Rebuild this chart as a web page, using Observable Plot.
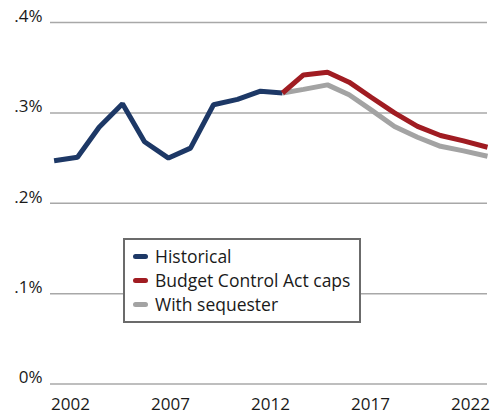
<!DOCTYPE html>
<html>
<head>
<meta charset="utf-8">
<script src="https://cdn.jsdelivr.net/npm/d3@7"></script>
<script src="https://cdn.jsdelivr.net/npm/@observablehq/plot@0.6"></script>
<style>
  html, body { margin: 0; padding: 0; background: #fff; }
  #wrap { position: relative; width: 490px; height: 415px; font-family: "Open Sans", sans-serif; }
  #legend {
    position: absolute; left: 123px; top: 238px; width: 238px; height: 85px;
    box-sizing: border-box; border: 2px solid #6b6b6b; background: #fff;
    padding: 4px 0 0 8px; font-size: 17.5px; color: #1a1a1a;
  }
  .row { height: 24px; line-height: 24px; display: flex; align-items: center; white-space: nowrap; }
  .sw { width: 15px; height: 5px; border-radius: 3px; margin-right: 7px; flex: none; }
</style>
</head>
<body>
<div id="wrap"></div>
<script>
// Historical (years)
const histYears = [2001.18, 2002.35, 2003.43, 2004.6, 2005.7, 2006.9, 2008.0, 2009.15, 2010.35, 2011.5, 2012.6];
const histValues = [0.247, 0.251, 0.284, 0.310, 0.268, 0.250, 0.261, 0.309, 0.315, 0.324, 0.322];
// Projections
const projYears = [2012.6, 2013.65, 2014.85, 2015.93, 2017.05, 2018.2, 2019.35, 2020.5, 2021.65, 2022.85];
const bcaValues = [0.322, 0.342, 0.345, 0.334, 0.317, 0.300, 0.285, 0.275, 0.269, 0.262];
const seqValues = [0.322, 0.326, 0.331, 0.320, 0.303, 0.285, 0.273, 0.263, 0.258, 0.252];

const seriesNames = ["Historical", "Budget Control Act caps", "With sequester"];
const seriesColors = ["#1d3866", "#a01c22", "#a3a3a3"];
const xTicks = [2002, 2007, 2012, 2017, 2022];
const yTicks = [0, 0.1, 0.2, 0.3, 0.4];
const yTickLabels = ["0%", ".1%", ".2%", ".3%", ".4%"];

const hist = histYears.map((x, i) => ({x, y: histValues[i]}));
const bca = projYears.map((x, i) => ({x, y: bcaValues[i]}));
const seq = projYears.map((x, i) => ({x, y: seqValues[i]}));

const lineOpts = {x: "x", y: "y", strokeWidth: 5, strokeLinejoin: "miter", strokeLinecap: "butt"};

const chart = Plot.plot({
  width: 490,
  height: 415,
  marginLeft: 50,
  marginRight: 3,
  marginTop: 22,
  marginBottom: 31.5,
  style: {fontFamily: "Open Sans", fontSize: "17px", color: "#1a1a1a", background: "#fff"},
  x: {domain: [2001, 2022.85]},
  y: {domain: [0, 0.4]},
  marks: [
    Plot.gridY(yTicks, {stroke: "#a8a8a8", strokeOpacity: 1, strokeWidth: 1.5}),
    Plot.axisY(yTicks, {tickSize: 0, tickPadding: 8, dy: -6, tickFormat: d => yTickLabels[yTicks.indexOf(d)], label: null}),
    Plot.axisX(xTicks, {tickSize: 0, tickPadding: 14, tickFormat: d => String(d), label: null}),
    Plot.line(hist, {...lineOpts, stroke: seriesColors[0]}),
    Plot.line(seq, {...lineOpts, stroke: seriesColors[2]}),
    Plot.line(bca, {...lineOpts, stroke: seriesColors[1]})
  ]
});

const wrap = document.getElementById("wrap");
wrap.appendChild(chart);
const legend = document.createElement("div");
legend.id = "legend";
seriesNames.forEach((name, i) => {
  const row = document.createElement("div");
  row.className = "row";
  const sw = document.createElement("span");
  sw.className = "sw";
  sw.style.background = seriesColors[i];
  const t = document.createElement("span");
  t.textContent = name;
  row.appendChild(sw);
  row.appendChild(t);
  legend.appendChild(row);
});
wrap.appendChild(legend);
</script>
</body>
</html>
